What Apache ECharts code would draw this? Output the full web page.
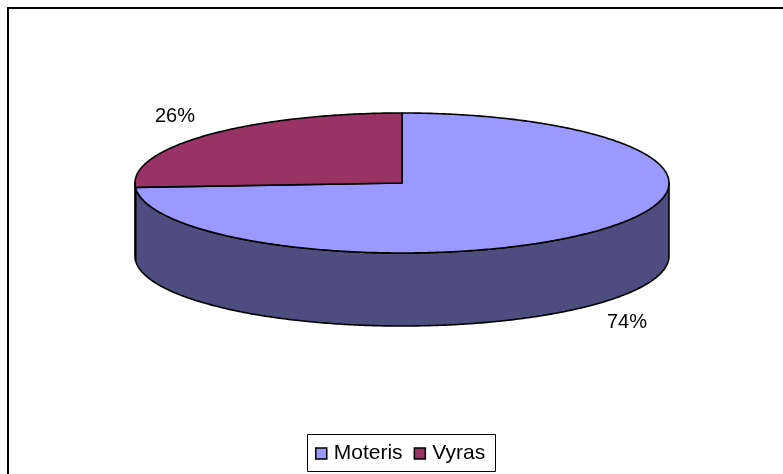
<!DOCTYPE html>
<html>
<head>
<meta charset="utf-8">
<style>
html, body { margin: 0; padding: 0; background: #fff; }
#chart { width: 783px; height: 474px; }
</style>
<script src="https://cdn.jsdelivr.net/npm/echarts@6/dist/echarts.min.js"></script>
</head>
<body>
<div id="chart"></div>
<script>
const categories = ['Moteris', 'Vyras'];
const values = [74, 26];
const labels = ['74%', '26%'];

const topColors = ['#9999FF', '#993366'];
const sideColors = ['#4D4D80', '#4D1A33'];

const cx = 402, cy = 183, rx = 267, ry = 70, depth = 73;
const total = values.reduce((a, b) => a + b, 0);

// angle is clockwise from 12 o'clock
function pt(a, dy) {
    return [cx + rx * Math.sin(a), cy - ry * Math.cos(a) + (dy || 0)];
}

function arcPoints(a0, a1, dy) {
    let pts = [];
    let n = Math.max(2, Math.ceil(Math.abs(a1 - a0) / 0.01));
    for (let i = 0; i <= n; i++) {
        pts.push(pt(a0 + (a1 - a0) * i / n, dy));
    }
    return pts;
}

const lineStyle = { stroke: '#000', lineWidth: 1.6, lineJoin: 'round' };

function renderSlice(i) {
    return function (params, api) {
        let before = 0;
        for (let k = 0; k < i; k++) before += values[k];
        let a0 = before / total * Math.PI * 2;
        let a1 = (before + api.value(0)) / total * Math.PI * 2;
        let children = [];

        // visible wall: front half of the ellipse only (90deg to 270deg)
        let s0 = Math.max(a0, Math.PI / 2), s1 = Math.min(a1, Math.PI * 1.5);
        if (s1 > s0) {
            let front = arcPoints(s0, s1, 0);
            let back = arcPoints(s1, s0, depth);
            children.push({
                type: 'polygon',
                shape: { points: front.concat(back) },
                style: Object.assign({ fill: sideColors[i] }, lineStyle)
            });
        }
        let rim = arcPoints(a0, a1, 0);
        children.push({
            type: 'polygon',
            shape: { points: [[cx, cy]].concat(rim) },
            style: Object.assign({ fill: topColors[i] }, lineStyle)
        });
        return { type: 'group', children: children };
    };
}

const option = {
    animation: false,
    backgroundColor: '#fff',
    graphic: [{
        // frame runs off the right and bottom of the picture
        type: 'rect',
        z: 0,
        shape: { x: 8, y: 8, width: 800, height: 500 },
        style: { fill: 'none', stroke: '#000', lineWidth: 2 }
    }, {
        type: 'text', z: 5, left: 155, top: 106,
        style: { text: labels[1], font: '20px "Liberation Sans"', fill: '#000' }
    }, {
        type: 'text', z: 5, left: 607, top: 312,
        style: { text: labels[0], font: '20px "Liberation Sans"', fill: '#000' }
    }, {
        type: 'rect', z: 1,
        shape: { x: 307.5, y: 434.5, width: 188, height: 37 },
        style: { fill: '#fff', stroke: '#000', lineWidth: 1 }
    }],
    legend: {
        data: categories,
        left: 315,
        top: 443,
        padding: 0,
        itemWidth: 11,
        itemHeight: 11,
        itemGap: 11,
        icon: 'rect',
        itemStyle: { borderColor: '#000', borderWidth: 1.5 },
        selectedMode: false,
        z: 4,
        textStyle: { fontFamily: 'Liberation Sans', fontSize: 21, color: '#000', padding: [0, 0, 0, 2] }
    },
    series: categories.map((c, i) => ({
        type: 'custom',
        name: c,
        coordinateSystem: 'none',
        renderItem: renderSlice(i),
        itemStyle: { color: topColors[i] },
        data: [[values[i]]]
    }))
};

const chart = echarts.init(document.getElementById('chart'), null, { renderer: 'canvas' });
chart.setOption(option);
</script>
</body>
</html>
